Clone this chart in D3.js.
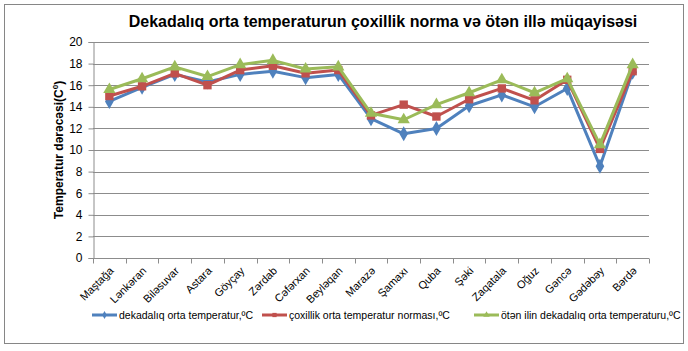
<!DOCTYPE html>
<html>
<head>
<meta charset="utf-8">
<script src="https://cdn.jsdelivr.net/npm/d3@7"></script>
<style>
  body { margin: 0; background: #fff; }
  text { font-family: "Liberation Sans", Arial, sans-serif; }
</style>
</head>
<body>
<div id="container"></div>
<script>
/* DATA */
const stations = ["Maştağa", "Lənkəran", "Biləsuvar", "Astara", "Göyçay", "Zərdab", "Cəfərxan", "Beyləqan",
  "Marazə", "Şamaxı", "Quba", "Şəki", "Zaqatala", "Oğuz", "Gəncə", "Gədəbəy", "Bərdə"]
const dekadaTemp = [14.5, 15.8, 17.0, 16.3, 17.0, 17.3, 16.7, 17.0, 12.9, 11.5, 12.0, 14.1, 15.1, 14.0, 15.7, 8.5, 17.2]
const normaTemp = [15.0, 15.9, 17.1, 16.0, 17.4, 17.8, 17.1, 17.4, 13.2, 14.2, 13.1, 14.7, 15.7, 14.6, 16.5, 10.1, 17.3]
const otenIlTemp = [15.6, 16.6, 17.7, 16.8, 17.9, 18.3, 17.5, 17.7, 13.4, 12.8, 14.2, 15.3, 16.5, 15.3, 16.6, 10.5, 17.9]
const yTicks = [0, 2, 4, 6, 8, 10, 12, 14, 16, 18, 20]

const seriesNames = ["dekadalıq orta temperatur,ºC", "çoxillik orta temperatur norması,ºC", "ötən ilin dekadalıq orta temperaturu,ºC"]

/* CONSTANTS */
const width = 688, height = 351
const margin = { top: 42, bottom: 93, left: 93, right: 39 }

const series = [
  { name: seriesNames[0], values: dekadaTemp, color: "#4F81BD", symbol: d3.symbolDiamond },
  { name: seriesNames[1], values: normaTemp, color: "#C0504D", symbol: d3.symbolSquare },
  { name: seriesNames[2], values: otenIlTemp, color: "#9BBB59", symbol: d3.symbolTriangle }
]

const svg = d3.select("#container")
  .append("svg")
  .attr("width", width)
  .attr("height", height)

// outer frame
svg.append("rect")
  .attr("x", 4.5).attr("y", 4.5)
  .attr("width", 679).attr("height", 339)
  .attr("fill", "#fff")
  .attr("stroke", "#868686")
  .attr("stroke-width", 1)

// SCALES
const xBand = d3.scaleBand()
  .domain(stations)
  .range([margin.left, width - margin.right])

const y = d3.scaleLinear()
  .domain([0, 20])
  .range([height - margin.bottom, margin.top])

// GRIDLINES
svg.selectAll("line.grid")
  .data(yTicks.filter(d => d > 0))
  .join("line")
  .attr("class", "grid")
  .attr("x1", margin.left).attr("x2", width - margin.right)
  .attr("y1", d => Math.round(y(d)) + 0.5).attr("y2", d => Math.round(y(d)) + 0.5)
  .attr("stroke", "#8c8c8c")

// Y AXIS
const yAxis = svg.append("g")
  .attr("transform", `translate(${margin.left + 0.5},0)`)
  .call(d3.axisLeft(y).tickValues(yTicks).tickSize(5).tickPadding(6))
yAxis.selectAll("path, line").attr("stroke", "#8c8c8c")
yAxis.selectAll("text").attr("font-size", 12).attr("fill", "#000")
  .style("font-family", "'Liberation Sans', Arial, sans-serif")

// X AXIS
const xAxis = svg.append("g")
  .attr("transform", `translate(0,${Math.round(y(0)) + 0.5})`)
xAxis.append("line")
  .attr("x1", margin.left).attr("x2", width - margin.right)
  .attr("stroke", "#8c8c8c")
const boundaries = stations.map(s => xBand(s)).concat([width - margin.right])
xAxis.selectAll("line.tick")
  .data(boundaries)
  .join("line")
  .attr("class", "tick")
  .attr("x1", d => Math.round(d) + 0.5).attr("x2", d => Math.round(d) + 0.5)
  .attr("y1", 0).attr("y2", 5)
  .attr("stroke", "#8c8c8c")
xAxis.selectAll("text")
  .data(stations)
  .join("text")
  .attr("transform", d => `translate(${xBand(d) + xBand.bandwidth() / 2 + 5},${13}) rotate(-45)`)
  .attr("text-anchor", "end")
  .attr("font-size", 11)
  .attr("fill", "#000")
  .text(d => d)

// Y AXIS TITLE
svg.append("text")
  .attr("transform", `translate(63,${y(10)}) rotate(-90)`)
  .attr("text-anchor", "middle")
  .attr("font-size", 12)
  .attr("font-weight", "bold")
  .html("Temperatur dərəcəsi(C<tspan dy='-5' font-size='8'>0</tspan><tspan dy='5'>)</tspan>")

// TITLE
svg.append("text")
  .attr("x", 383).attr("y", 27)
  .attr("text-anchor", "middle")
  .attr("font-size", 16)
  .attr("font-weight", "bold")
  .text("Dekadalıq orta temperaturun çoxillik norma və ötən illə müqayisəsi")

// LINES
const xPos = i => xBand(stations[i]) + xBand.bandwidth() / 2
const lineGen = d3.line()
  .x((d, i) => xPos(i))
  .y(d => y(d))

series.forEach(s => {
  svg.append("path")
    .datum(s.values)
    .attr("d", lineGen)
    .attr("fill", "none")
    .attr("stroke", s.color)
    .attr("stroke-width", 3)
    .attr("stroke-linejoin", "round")

  svg.selectAll(null)
    .data(s.values)
    .join("path")
    .attr("d", d3.symbol().type(s.symbol).size(s.symbol === d3.symbolSquare ? 70 : 65))
    .attr("transform", (d, i) => `translate(${xPos(i)},${y(d)})`)
    .attr("fill", s.color)
})

// LEGEND
const legendX = [92, 262, 474]
const legend = svg.selectAll("g.legend")
  .data(series)
  .join("g")
  .attr("class", "legend")
  .attr("transform", (d, i) => `translate(${legendX[i]},315)`)
legend.append("line")
  .attr("x1", 0).attr("x2", 25)
  .attr("stroke", d => d.color)
  .attr("stroke-width", 3)
legend.append("path")
  .attr("d", d => d3.symbol().type(d.symbol).size(18)())
  .attr("transform", "translate(12.5,0)")
  .attr("fill", d => d.color)
legend.append("text")
  .attr("x", 27).attr("y", 4)
  .attr("font-size", 10.5)
  .attr("fill", "#000")
  .text(d => d.name)
</script>
</body>
</html>
